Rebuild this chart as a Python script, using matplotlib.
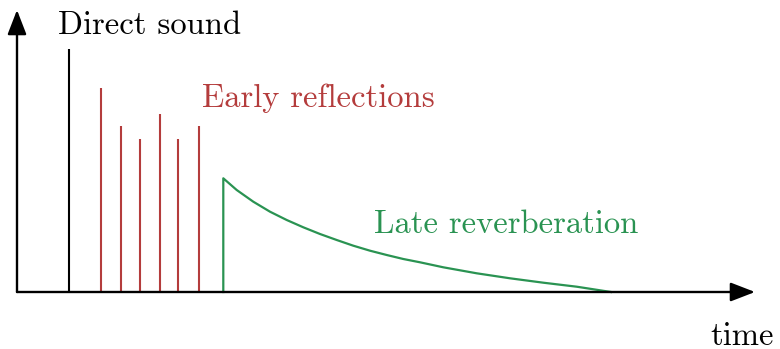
import matplotlib
matplotlib.use("Agg")
import matplotlib.pyplot as plt
from matplotlib.patches import FancyArrowPatch

plt.rcParams['font.family'] = ['cmr10', 'DejaVu Serif']
plt.rcParams['mathtext.fontset'] = 'cm'
plt.rcParams['axes.formatter.use_mathtext'] = True

RED = '#b43c3c'
GREEN = '#2a9352'

# direct sound
direct_time = 52
direct_amp = 243

# early reflections
refl_times = [84, 104, 122.5, 143, 161, 181.5]
refl_amps = [204.5, 166.5, 153, 178, 153, 166.5]

# late reverberation envelope
late_times = [206.3, 206.3, 219.7, 236.3, 253, 269.7, 286.3, 303, 319.7, 336.3,
              353, 369.7, 386.3, 403, 426.3, 459.7, 493, 526.3, 559.7, 594]
late_amps = [0, 113.7, 102, 90.3, 80.3, 72, 64.7, 58, 52, 46.3,
             41.3, 37, 33, 29.7, 24.7, 18.7, 13.7, 9.3, 5.3, 0]

x_end = 738
y_end = 282

fig = plt.figure(figsize=(7.8, 3.49), dpi=100)
ax = fig.add_axes([0, 0, 1, 1])
ax.set_xlim(-17, 763)
ax.set_ylim(-57, 292)
ax.axis('off')

ax.vlines(direct_time, 0, direct_amp, color='black', lw=1.5)
ax.vlines(refl_times, 0, refl_amps, color=RED, lw=1.5)
ax.plot(late_times, late_amps, color=GREEN, lw=1.6, solid_joinstyle='round')

for end in [(x_end, 0), (0, y_end)]:
    arr = FancyArrowPatch((0, 0), end, arrowstyle='-|>,head_length=1.5,head_width=0.58',
                          mutation_scale=10, shrinkA=0, shrinkB=0, lw=1.7,
                          color='black', zorder=5)
    ax.add_patch(arr)

fs = 23.5
ax.text(41, 258, 'Direct sound', fontsize=fs, color='black', va='baseline')
ax.text(184.7, 185.3, 'Early reflections', fontsize=fs, color=RED, va='baseline')
ax.text(357, 58.7, 'Late reverberation', fontsize=fs, color=GREEN, va='baseline')
ax.text(757, -53, 'time', fontsize=fs, color='black', va='baseline', ha='right')

fig.savefig('out.png', dpi=100)
